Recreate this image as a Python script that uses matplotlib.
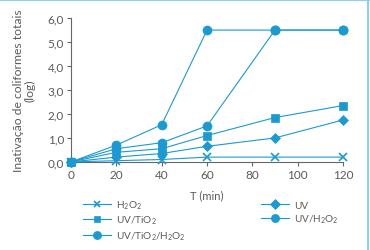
import matplotlib
matplotlib.use("Agg")
import matplotlib.pyplot as plt
from matplotlib.lines import Line2D

plt.rcParams['font.family'] = ['Lato', 'DejaVu Sans']
plt.rcParams['mathtext.default'] = 'regular'

t = [0, 20, 40, 60, 90, 120]
h2o2 = [0, 0.05, 0.1, 0.2, 0.2, 0.2]
uv_tio2 = [0, 0.4, 0.55, 1.1, 1.85, 2.35]
uv_tio2_h2o2 = [0, 0.7, 1.55, 5.5, 5.5, 5.5]
uv = [0, 0.2, 0.35, 0.65, 1.0, 1.75]
uv_h2o2 = [0, 0.55, 0.8, 1.5, 5.5, 5.5]

labels = ['H$_2$O$_2$', 'UV/TiO$_2$', 'UV/TiO$_2$/H$_2$O$_2$', 'UV', 'UV/H$_2$O$_2$']
xticks = [0, 20, 40, 60, 80, 100, 120]
yticks = [0, 1, 2, 3, 4, 5, 6]
ytick_labels = ['0,0', '1,0', '2,0', '3,0', '4,0', '5,0', '6,0']

color = '#1b9ad2'
txt = '#5a5a5a'

fig = plt.figure(figsize=(3.7, 2.51), dpi=100)
ax = fig.add_axes([0.192, 0.351, 0.735, 0.573])

series = [(h2o2, 'x', 5.5), (uv_tio2, 's', 5.5), (uv_tio2_h2o2, 'o', 6.5),
          (uv, 'D', 5.5), (uv_h2o2, 'o', 6.5)]
handles = []
for (vals, m, ms), lab in zip(series, labels):
    h, = ax.plot(t, vals, color=color, lw=0.8, marker=m, ms=ms,
                 mew=1.2 if m == 'x' else 0.5, clip_on=False, label=lab, zorder=3)
    handles.append(h)

ax.set_xlim(0, 120)
ax.set_ylim(0, 6)
ax.set_xticks(xticks)
ax.set_yticks(yticks)
ax.set_yticklabels(ytick_labels)
for s in ['top', 'right']:
    ax.spines[s].set_visible(False)
for s in ['left', 'bottom']:
    ax.spines[s].set_color('#666666')
    ax.spines[s].set_linewidth(0.8)
ax.tick_params(colors='#666666', labelcolor=txt, labelsize=8.5, length=3, width=0.8, pad=2)
ax.set_xlabel('T (min)', fontsize=8, color=txt, labelpad=7)
ax.set_ylabel('Inativação de coliformes totais\n(log)', fontsize=8.7, color=txt, linespacing=1.05)
ax.yaxis.set_label_coords(-0.13, 0.5)

fig.legend(handles=handles, loc='upper left', bbox_to_anchor=(0.21, 0.225), ncol=2,
           frameon=False, fontsize=7.2, labelcolor=txt, columnspacing=7.6,
           handlelength=2.8, handletextpad=0.5, labelspacing=0.28, borderpad=0,
           markerscale=0.9)

# figure frame (top and right)
fig.add_artist(Line2D([0, 1], [0.998, 0.998], color='#8fd0e8', lw=1.5, transform=fig.transFigure))
fig.add_artist(Line2D([0.995, 0.995], [0, 1], color='#8fd0e8', lw=1.5, transform=fig.transFigure))

fig.savefig('out.png', dpi=100)
